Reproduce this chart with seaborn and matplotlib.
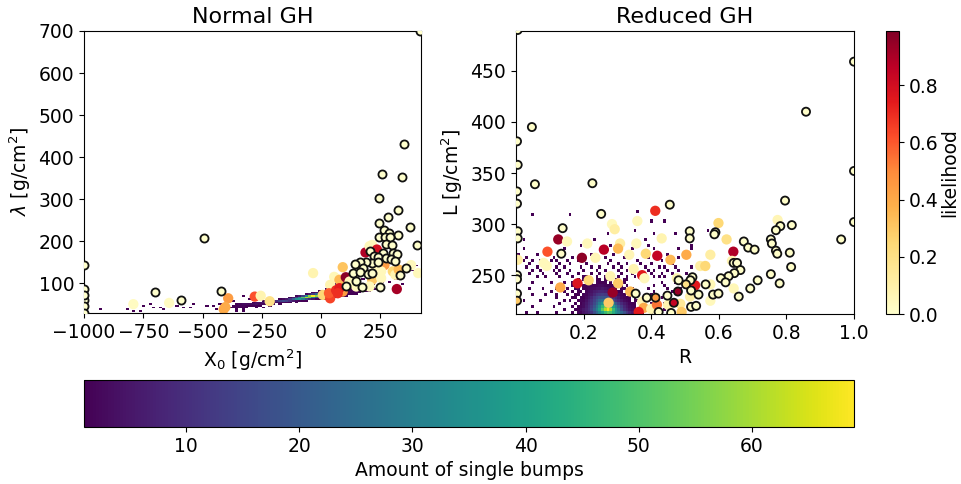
import numpy as np
import seaborn as sns
import matplotlib.pyplot as plt
from matplotlib.cm import ScalarMappable
from matplotlib.colors import Normalize

# ringed points, left panel
left_ring_x = [348, 256, 340, 242, 323, 281, 243, 376, 265, 288, 322, 243, 270, 292, 275, 298, 403, -493, -1000,
               208, 261, 303, 319, 221, 239, 275, 296, 312, 214, 239, 187, 162, 141, 177, 358, 134, 162, 197, 214,
               334, 145, 103, 173, 249, -701, -422, -593, -1000, -1000, -1000, -1000, -1000, 415]
left_ring_y = [432, 359, 352, 303, 275, 257, 244, 234, 227, 220, 215, 209, 209, 211, 192, 191, 190, 208, 143,
               176, 172, 172, 169, 165, 163, 161, 157, 152, 149, 151, 151, 151, 146, 135, 136, 125, 127, 122, 124,
               120, 106, 94, 90, 92, 79, 81, 60, 86, 60, 45, 30, 72, 700]
# plain points, left panel
left_x = [-792, -641, -392, -404, -411, -280, -255, -217, -34, 91, 55, 38, 7, 38, 33, 63, 91, 85, 77, 104, 187, 204,
          215, 235, 267, 215, 253, 253, 225, 302, 313, 327, 319, 379, 409, 148, 120, 204, 77, 70]
left_y = [50, 53, 64, 43, 38, 68, 70, 57, 124, 138, 115, 96, 72, 64, 76, 83, 80, 96, 108, 114, 173, 188,
          191, 180, 143, 108, 128, 112, 128, 128, 120, 132, 86, 143, 124, 92, 104, 92, 88, 76]
left_like = [0.03, 0.03, 0.45, 0.4, 0.4, 0.62, 0.08, 0.2, 0.08, 0.32, 0.06, 0.08, 0.25, 0.65, 0.6, 0.7, 0.45, 0.4,
             0.35, 0.98, 0.9, 0.05, 0.05, 0.8, 0.45, 0.3, 0.05, 0.05, 0.05, 0.25, 0.08, 0.35, 0.92, 0.05, 0.05,
             0.05, 0.05, 0.05, 0.75, 0.7]

# ringed points, right panel
right_ring_x = [0.005, 1.0, 0.858, 0.047, 0.003, 0.005, 0.056, 0.226, 0.003, 1.0, 0.003, 0.455, 0.796, 0.252, 0.816,
                0.782, 0.769, 1.0, 0.138, 0.514, 0.59, 0.587, 0.514, 0.005, 0.005, 0.962, 0.754, 0.757, 0.674,
                0.687, 0.706, 0.769, 0.773, 0.81, 0.134, 0.814, 0.644, 0.654, 0.664, 0.646, 0.754, 0.629, 0.606,
                0.62, 0.715, 0.78, 0.693, 0.561, 0.522, 0.516, 0.481, 0.503, 0.518, 0.54, 0.583, 0.599, 0.659,
                0.448, 0.354, 0.387, 0.413, 0.479, 0.467, 0.518, 0.533, 0.422, 0.459, 0.003, 0.003, 0.003, 0.003]
right_ring_y = [490, 459, 410, 395, 381, 358, 339, 340, 332, 352, 320, 319, 323, 310, 299,
                298, 294, 302, 296, 293, 292, 290, 286, 293, 286, 285, 285, 281, 283,
                277, 275, 274, 271, 272, 271, 258, 262, 262, 255, 252, 251, 249, 247,
                243, 245, 242, 237, 241, 248, 245, 245, 241, 235, 231, 231, 232, 229,
                230, 232, 228, 228, 234, 223, 219, 220, 214, 213, 250, 246, 232, 225]
right_ring_like = [0.01, 0.01, 0.01, 0.01, 0.01, 0.01, 0.01, 0.01, 0.01, 0.01, 0.01, 0.01, 0.01, 0.01, 0.01,
                   0.01, 0.01, 0.01, 0.01, 0.01, 0.01, 0.01, 0.01, 0.01, 0.01, 0.01, 0.01, 0.01, 0.01,
                   0.01, 0.01, 0.01, 0.01, 0.01, 0.01, 0.01, 0.01, 0.01, 0.01, 0.01, 0.01, 0.01, 0.01,
                   0.01, 0.01, 0.01, 0.01, 0.01, 0.01, 0.01, 0.01, 0.2, 0.01, 0.01, 0.01, 0.01, 0.01,
                   0.01, 0.01, 0.01, 0.45, 0.95, 0.85, 0.01, 0.01, 0.01, 0.01, 0.01, 0.01, 0.01, 0.3]
# plain points, right panel
right_x = [0.412, 0.599, 0.774, 0.284, 0.292, 0.359, 0.431, 0.623, 0.125, 0.151, 0.211, 0.308, 0.356, 0.26, 0.302,
           0.093, 0.643, 0.335, 0.384, 0.418, 0.504, 0.575, 0.195, 0.235, 0.457, 0.005, 0.082, 0.091, 0.545, 0.56,
           0.639, 0.348, 0.279, 0.373, 0.38, 0.182, 0.215, 0.302, 0.131, 0.286, 0.274, 0.338, 0.476, 0.53, 0.575,
           0.644, 0.575, 0.515, 0.486, 0.373, 0.378, 0.4, 0.363, 0.417, 0.45, 0.49]
right_y = [313, 301, 304, 300, 295, 303, 286, 285, 285, 283, 281, 281, 281, 275, 276,
           273, 273, 270, 271, 269, 270, 270, 267, 267, 265, 265, 262, 259, 259, 259,
           264, 256, 249, 250, 247, 242, 245, 242, 238, 233, 223, 234, 247, 240, 241,
           237, 225, 229, 222, 224, 218, 217, 214, 221, 221, 214]
right_like = [0.7, 0.25, 0.07, 0.05, 0.12, 0.05, 0.08, 0.2, 0.95, 0.05, 0.05, 0.12, 0.05, 0.88, 0.35,
              0.62, 0.9, 0.07, 0.25, 0.85, 0.4, 0.12, 0.97, 0.07, 0.35, 0.12, 0.05, 0.05, 0.12, 0.25,
              0.08, 0.08, 0.08, 0.75, 0.05, 0.78, 0.25, 0.3, 0.4, 0.95, 0.3, 0.35, 0.08, 0.75, 0.06,
              0.06, 0.05, 0.1, 0.15, 0.08, 0.4, 0.08, 0.75, 0.55, 0.08, 0.3]

# bump counts: y value -> (first x, counts in neighbouring bins)
left_rows = {
    34: (-400, [1, 0, 0, 1, 0, 1]),
    38: (-440, [1, 0, 1, 1, 0, 0, 1, 0, 1]),
    42: (-390, [1, 1, 0, 1, 1, 1, 0, 0, 1, 0, 1]),
    46: (-370, [1, 1, 2, 2, 1, 1, 1, 1, 1, 0, 0, 1]),
    50: (-350, [1, 2, 3, 3, 3, 3, 4, 3, 2, 1, 1, 1, 0, 1]),
    54: (-290, [1, 3, 4, 5, 6, 6, 5, 4, 3, 2, 1, 1, 0, 1]),
    58: (-240, [1, 2, 4, 7, 10, 14, 16, 14, 10, 6, 3, 2, 1, 1]),
    62: (-180, [1, 3, 6, 12, 22, 34, 38, 30, 18, 9, 5, 2, 1, 1, 1]),
    66: (-130, [2, 6, 14, 30, 50, 62, 54, 36, 18, 9, 4, 2, 1, 1, 1]),
    70: (-100, [2, 5, 14, 34, 58, 69, 58, 36, 18, 9, 4, 2, 1, 1, 1, 1]),
    74: (-60, [2, 6, 14, 24, 30, 24, 14, 8, 4, 3, 2, 1, 1, 1, 1, 1]),
    78: (-30, [2, 4, 7, 9, 8, 6, 4, 3, 2, 2, 1, 1, 1, 1, 1]),
    82: (-10, [1, 2, 3, 3, 3, 2, 2, 2, 2, 1, 1, 1, 1, 1, 1, 1]),
    86: (20, [1, 1, 1, 2, 2, 2, 2, 2, 1, 1, 1, 1, 1, 1, 1, 1]),
    90: (60, [1, 1, 1, 1, 1, 1, 1, 1, 0, 1, 1, 1, 0, 1]),
}
left_sparse_x = [-933, -820, -792, -757, -750, -715, -705, -680, -666, -610, -575, -547, -533, -484, -456, -428,
                 -365, -357, -329, -300, 30, 60, 90, 220, 260, 290, 310, 340, 350, 380, 395, 410, 150, 180]
left_sparse_y = [38, 38, 33, 34, 46, 49, 41, 42, 37, 45, 41, 42, 48, 46, 45, 51,
                 56, 41, 71, 62, 94, 98, 106, 98, 102, 100, 110, 98, 116, 130, 140, 122, 102, 110]

right_rows = {
    213: (0.17, [1, 0, 2, 1, 4, 6, 8, 11, 17, 24, 32, 40, 47, 52, 50, 44, 36, 30, 24, 18, 12, 8, 5, 3, 2, 1, 1]),
    216: (0.17, [0, 1, 1, 3, 5, 7, 10, 15, 22, 30, 40, 52, 62, 69, 60, 47, 36, 26, 16, 10, 7, 4, 3, 2, 1, 1]),
    219: (0.17, [1, 0, 1, 2, 3, 6, 9, 13, 19, 27, 36, 46, 55, 58, 48, 38, 29, 20, 13, 8, 5, 3, 2, 1, 0, 1]),
    222: (0.17, [0, 1, 0, 1, 3, 5, 8, 11, 16, 22, 30, 36, 40, 40, 35, 28, 20, 14, 9, 6, 4, 2, 1, 1, 0, 1]),
    225: (0.16, [1, 0, 0, 1, 2, 2, 4, 7, 10, 14, 19, 24, 27, 28, 26, 21, 16, 11, 8, 5, 3, 2, 1, 0, 1, 1]),
    228: (0.16, [0, 1, 1, 0, 2, 1, 3, 5, 8, 12, 15, 18, 19, 19, 17, 14, 11, 8, 5, 3, 2, 1, 1, 0, 1]),
    231: (0.15, [1, 0, 0, 1, 1, 0, 2, 2, 4, 5, 8, 11, 12, 13, 12, 11, 9, 7, 5, 3, 2, 1, 0, 1, 1, 0]),
    234: (0.14, [1, 0, 0, 1, 0, 1, 1, 0, 2, 3, 4, 6, 7, 8, 8, 7, 6, 5, 4, 3, 1, 1, 0, 1, 1, 0, 1]),
    237: (0.15, [1, 0, 0, 1, 1, 0, 1, 1, 2, 3, 3, 4, 4, 5, 4, 3, 2, 2, 1, 0, 1, 1, 0, 0, 1]),
    240: (0.17, [1, 0, 1, 0, 1, 1, 1, 2, 2, 2, 3, 3, 2, 1, 1, 1, 0, 1, 1, 0, 1]),
    243: (0.17, [1, 0, 0, 1, 0, 1, 1, 1, 0, 2, 1, 1, 1, 0, 1, 0, 1, 0, 0, 1]),
    246: (0.18, [1, 0, 0, 1, 0, 1, 0, 1, 1, 0, 1, 1, 0, 0, 1, 0, 0, 1, 1]),
}
right_sparse = {
    213: [0.03, 0.06, 0.12, 0.4, 0.43, 0.46],
    216: [0.14, 0.41, 0.44],
    219: [0.05, 0.11, 0.39, 0.42, 0.45],
    222: [0.13, 0.4, 0.44],
    225: [0.02, 0.07, 0.14, 0.38, 0.41, 0.46],
    228: [0.12, 0.39, 0.43],
    231: [0.05, 0.09, 0.12, 0.4, 0.44, 0.48],
    234: [0.1, 0.41, 0.46],
    237: [0.04, 0.08, 0.12, 0.39, 0.45, 0.49],
    240: [0.13, 0.41, 0.44],
    243: [0.05, 0.1, 0.14, 0.43, 0.47, 0.5],
    249: [0.06, 0.09, 0.13, 0.17, 0.2, 0.21, 0.24, 0.26, 0.29, 0.3, 0.33, 0.35, 0.38, 0.41, 0.42, 0.44, 0.47],
    252: [0.04, 0.08, 0.12, 0.15, 0.18, 0.22, 0.25, 0.28, 0.31, 0.34, 0.37, 0.4, 0.43, 0.46, 0.5],
    255: [0.05, 0.07, 0.11, 0.13, 0.16, 0.2, 0.24, 0.26, 0.3, 0.33, 0.35, 0.39, 0.41, 0.45, 0.48],
    258: [0.03, 0.06, 0.12, 0.14, 0.19, 0.22, 0.25, 0.29, 0.31, 0.34, 0.38, 0.42, 0.44, 0.47, 0.52],
    261: [0.04, 0.09, 0.13, 0.16, 0.21, 0.27, 0.3, 0.33, 0.37, 0.4, 0.46],
    264: [0.02, 0.05, 0.07, 0.1, 0.12, 0.15, 0.18, 0.24, 0.28, 0.36, 0.43],
    267: [0.03, 0.11, 0.17, 0.26, 0.32, 0.39, 0.48],
    270: [0.01, 0.06, 0.22, 0.29, 0.45],
    276: [0.02, 0.14, 0.34, 0.41, 0.48, 0.52],
    279: [0.19, 0.28, 0.39, 0.52],
    285: [0.02, 0.23, 0.38, 0.44],
    291: [0.27, 0.41, 0.47],
    294: [0.565, 0.35],
    303: [0.4, 0.44],
    309: [0.046, 0.16],
    312: [0.358],
}

left_hist_x, left_hist_y, left_hist_n = list(left_sparse_x), list(left_sparse_y), [1] * len(left_sparse_x)
for y0, (x0, counts) in left_rows.items():
    for i, c in enumerate(counts):
        left_hist_x.append(x0 + 14 * i)
        left_hist_y.append(y0)
        left_hist_n.append(c)

right_hist_x, right_hist_y, right_hist_n = [], [], []
for y0, (x0, counts) in right_rows.items():
    for i, c in enumerate(counts):
        right_hist_x.append(x0 + 0.008 * i)
        right_hist_y.append(y0)
        right_hist_n.append(c)
for y0, xs in right_sparse.items():
    for x0 in xs:
        right_hist_x.append(x0)
        right_hist_y.append(y0)
        right_hist_n.append(1)

plt.rcParams["font.size"] = 13.5
W, H = 961, 484


def px_axes(fig, x0, y0, x1, y1):
    return fig.add_axes([x0 / W, 1 - y1 / H, (x1 - x0) / W, (y1 - y0) / H])


fig = plt.figure(figsize=(W / 100, H / 100), dpi=100)
ax1 = px_axes(fig, 84, 31, 421, 313)
ax2 = px_axes(fig, 516, 31, 854, 314)
cax_r = px_axes(fig, 886, 31, 899, 314)
cax_b = px_axes(fig, 84, 380, 854, 427)

sns.histplot(x=left_hist_x, y=left_hist_y, weights=left_hist_n,
             bins=[np.arange(-1007, 440, 14), np.arange(28, 704, 4)],
             cmap="viridis", vmin=1, vmax=69, ax=ax1, zorder=1)
sns.histplot(x=right_hist_x, y=right_hist_y, weights=right_hist_n,
             bins=[np.arange(-0.004, 1.01, 0.008), np.arange(211.5, 492, 3)],
             cmap="viridis", vmin=1, vmax=69, ax=ax2, zorder=1)

sns.scatterplot(x=left_x, y=left_y, hue=left_like, palette="YlOrRd", hue_norm=(0, 1), s=55, linewidth=0,
                legend=False, ax=ax1, zorder=2)
sns.scatterplot(x=left_ring_x, y=left_ring_y, color="#ffffcc", s=34, edgecolor="#111111", linewidth=1.3,
                legend=False, ax=ax1, zorder=3)
sns.scatterplot(x=right_x, y=right_y, hue=right_like, palette="YlOrRd", hue_norm=(0, 1), s=55, linewidth=0,
                legend=False, ax=ax2, zorder=2)
sns.scatterplot(x=right_ring_x, y=right_ring_y, hue=right_ring_like, palette="YlOrRd", hue_norm=(0, 1), s=34,
                edgecolor="#111111", linewidth=1.3, legend=False, ax=ax2, zorder=3)

ax1.set_xlim(-1000, 421)
ax1.set_ylim(29, 700)
ax1.set_xticks([-1000, -750, -500, -250, 0, 250])
ax1.set_yticks([100, 200, 300, 400, 500, 600, 700])
ax1.set_title("Normal GH", fontsize=16)
ax1.set_xlabel("X$_0$ [g/cm$^2$]")
ax1.set_ylabel("$\\lambda$ [g/cm$^2$]")

ax2.set_xlim(0, 1)
ax2.set_ylim(212, 489)
ax2.set_xticks([0.2, 0.4, 0.6, 0.8, 1.0])
ax2.set_yticks([250, 300, 350, 400, 450])
ax2.set_title("Reduced GH", fontsize=16)
ax2.set_xlabel("R")
ax2.set_ylabel("L [g/cm$^2$]")

cb_r = fig.colorbar(ScalarMappable(Normalize(0, 0.99), "YlOrRd"), cax=cax_r)
cb_r.set_ticks([0, 0.2, 0.4, 0.6, 0.8])
cb_r.set_label("likelihood", labelpad=1)
cb_b = fig.colorbar(ScalarMappable(Normalize(1, 69), "viridis"), cax=cax_b, orientation="horizontal")
cb_b.set_ticks([10, 20, 30, 40, 50, 60])
cb_b.set_label("Amount of single bumps")

fig.savefig("out.png", dpi=100)
